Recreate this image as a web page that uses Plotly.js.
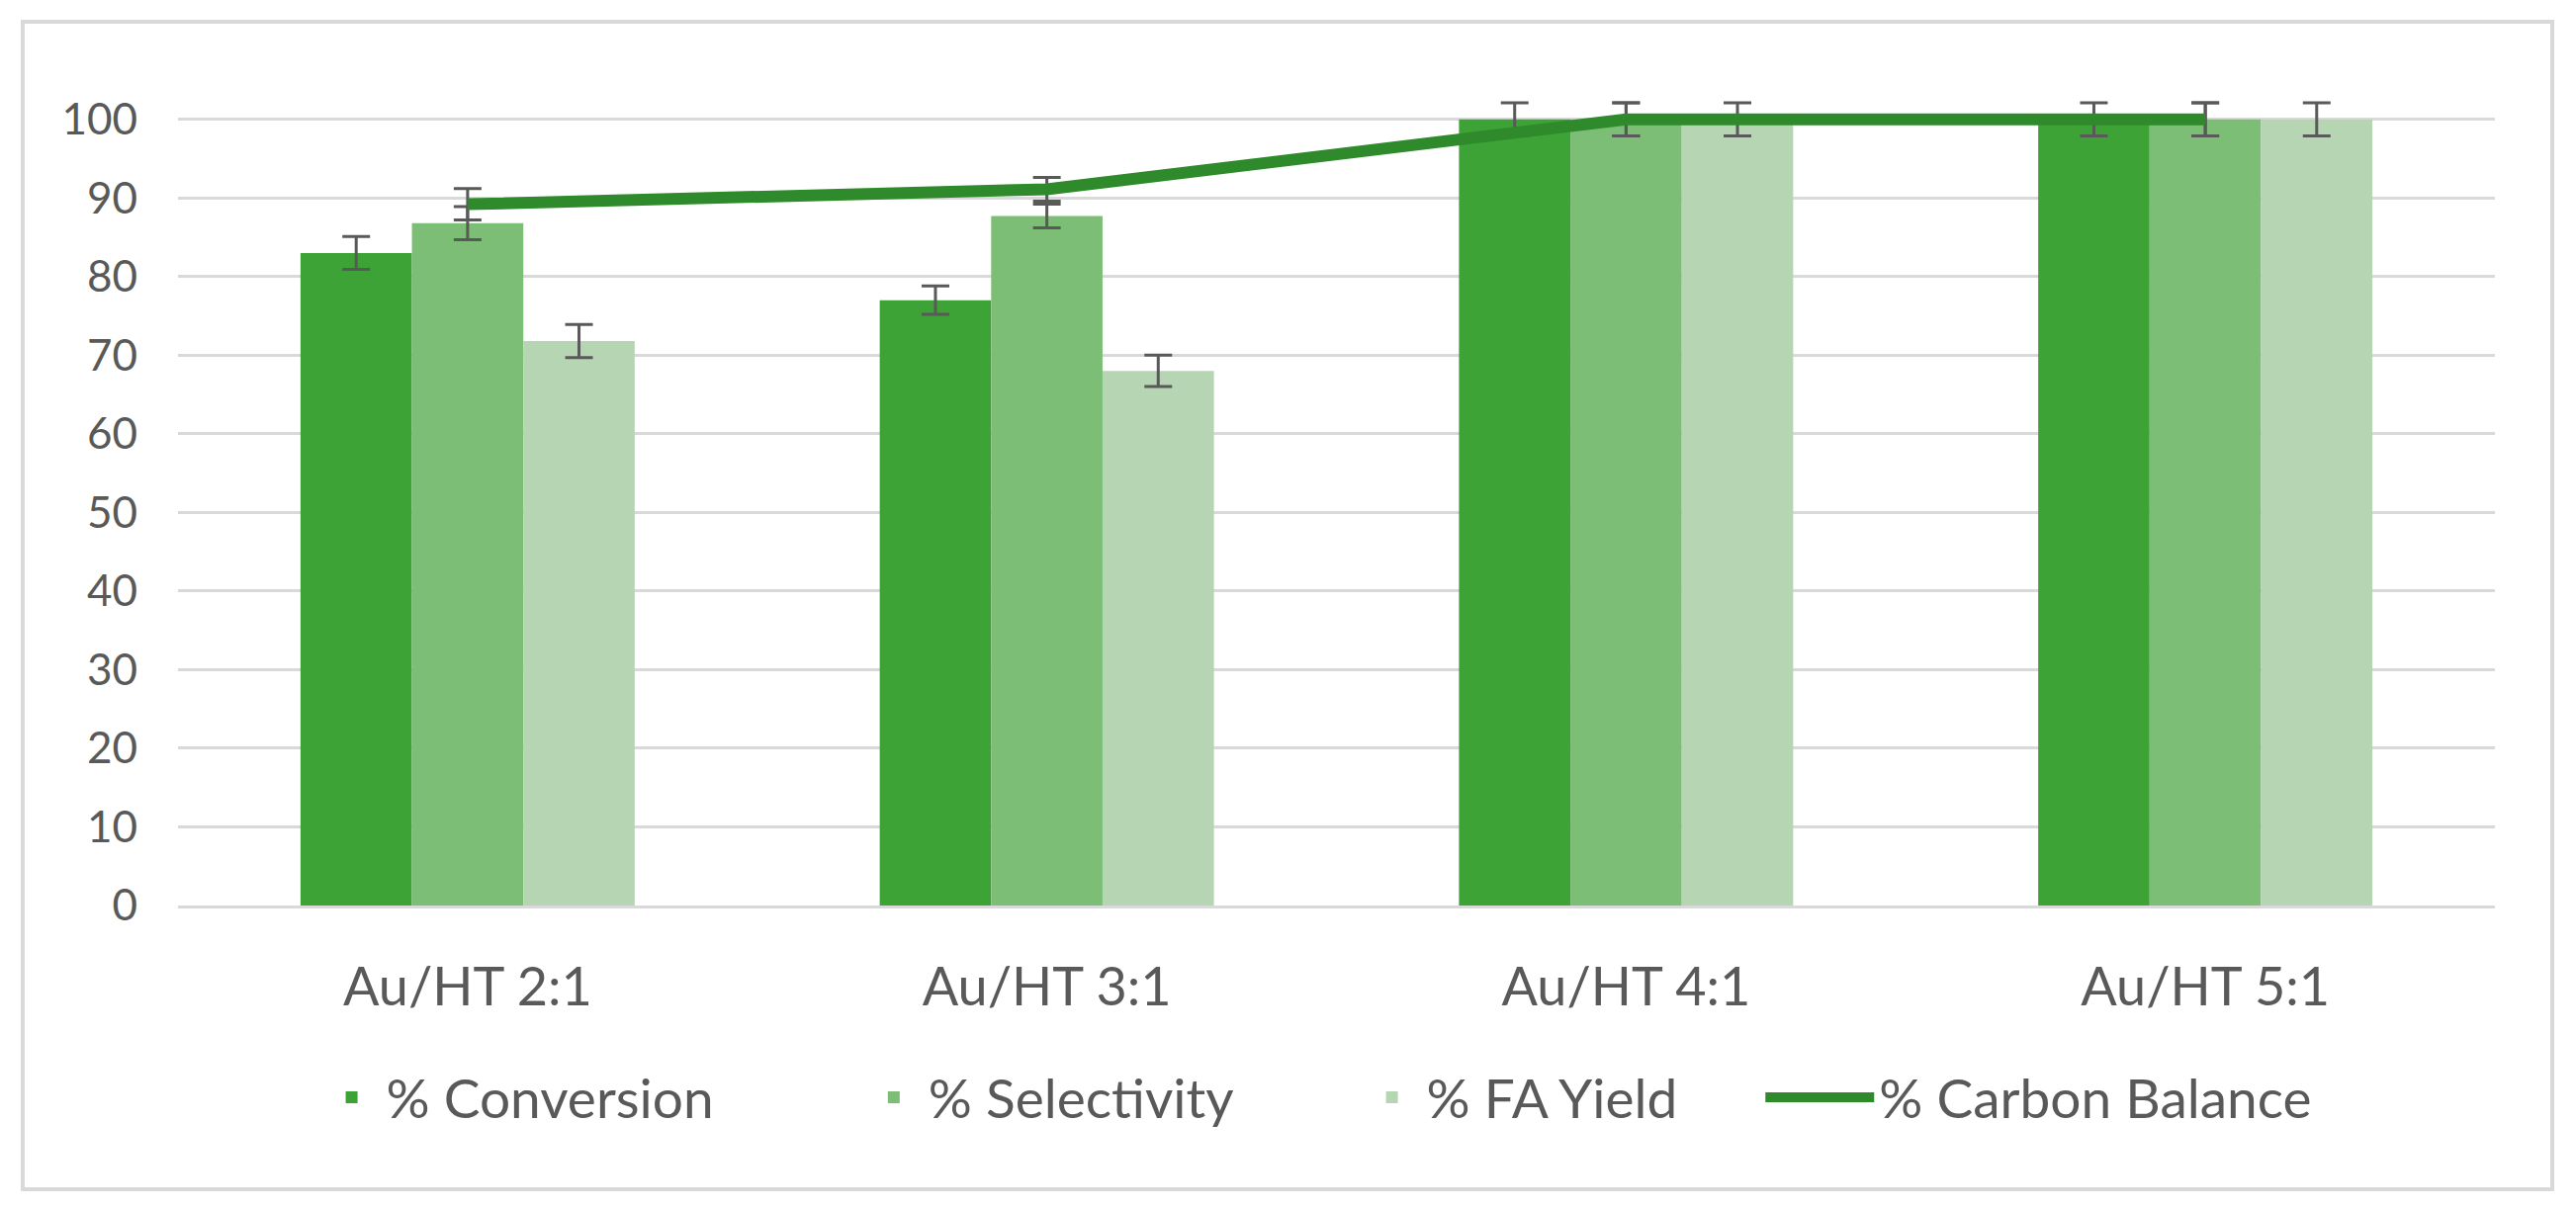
<!DOCTYPE html>
<html>
<head>
<meta charset="utf-8">
<script src="https://cdn.plot.ly/plotly-3.0.1.min.js"></script>
<style>
  html, body { margin: 0; padding: 0; background: #ffffff; }
  #chart { position: absolute; left: 0; top: 0; width: 2605px; height: 1222px; }
  #frame { position: absolute; left: 21px; top: 20px; width: 2554px; height: 1177px;
           border: 4px solid #d9d9d9; pointer-events: none; }
</style>
</head>
<body>
<div id="chart"></div>
<div id="frame"></div>
<script>
// ---- data ----
const categories = ["Au/HT 2:1", "Au/HT 3:1", "Au/HT 4:1", "Au/HT 5:1"];
const conversion = [83, 77, 100, 100];
const conversionErr = [2.1, 1.8, 2.1, 2.1];
const selectivity = [86.8, 87.7, 100, 100];
const selectivityErr = [2.1, 1.5, 2.1, 2.1];
const faYield = [71.8, 68, 100, 100];
const faYieldErr = [2.1, 2.0, 2.1, 2.1];
const carbonBalance = [89.2, 91.1, 100, 100];
const carbonBalanceErr = [2.0, 1.5, 2.1, 2.1];
const yTicks = [0, 10, 20, 30, 40, 50, 60, 70, 80, 90, 100];
const seriesNames = ["% Conversion", "% Selectivity", "% FA Yield", "% Carbon Balance"];

// ---- styles ----
const colors = ["#3EA336", "#7DBE76", "#B6D6B3", "#2F8A2B"];
const errStyle = { type: "data", color: "#595959", thickness: 3, width: 14 };
const font = "Lato, 'Open Sans', sans-serif";
const textColor = "#595959";

const traces = [
  { type: "bar", name: seriesNames[0], x: categories, y: conversion,
    marker: { color: colors[0], line: { color: colors[0], width: 0 } },
    error_y: Object.assign({ array: conversionErr }, errStyle), legend: "legend" },
  { type: "bar", name: seriesNames[1], x: categories, y: selectivity,
    marker: { color: colors[1], line: { color: colors[1], width: 0 } },
    error_y: Object.assign({ array: selectivityErr }, errStyle), legend: "legend2" },
  { type: "bar", name: seriesNames[2], x: categories, y: faYield,
    marker: { color: colors[2], line: { color: colors[2], width: 0 } },
    error_y: Object.assign({ array: faYieldErr }, errStyle), legend: "legend3" },
  { type: "scatter", mode: "lines", name: seriesNames[3], x: categories, y: carbonBalance,
    line: { color: colors[3], width: 12 },
    error_y: Object.assign({ array: carbonBalanceErr }, errStyle), legend: "legend4" }
];

function legendAt(x, itemwidth) {
  return { orientation: "h", x: x, xanchor: "left", y: -0.18, yanchor: "top",
           font: { family: font, size: 55, color: textColor }, itemwidth: itemwidth,
           bgcolor: "rgba(0,0,0,0)" };
}

const layout = {
  width: 2605, height: 1222,
  margin: { l: 180, r: 82, t: 73, b: 306 },
  paper_bgcolor: "#ffffff", plot_bgcolor: "#ffffff",
  barmode: "group", bargap: 0.423, bargroupgap: 0,
  showlegend: true,
  font: { family: font, color: textColor },
  xaxis: {
    type: "category", showgrid: false, zeroline: false,
    showline: true, linecolor: "#d9d9d9", linewidth: 3,
    ticks: "", ticklabelstandoff: 33,
    tickfont: { family: font, size: 54, color: textColor }
  },
  yaxis: {
    range: [0, 106], tickmode: "array", tickvals: yTicks, ticktext: yTicks.map(String),
    showgrid: true, gridcolor: "#d9d9d9", gridwidth: 3,
    zeroline: false, showline: false, ticks: "", ticklabelstandoff: 40,
    tickfont: { family: font, size: 44, color: textColor }
  },
  legend: legendAt(0.060, 60),
  legend2: legendAt(0.294, 60),
  legend3: legendAt(0.509, 60),
  legend4: legendAt(0.683, 110)
};

Plotly.newPlot("chart", traces, layout, { displayModeBar: false, staticPlot: true });
</script>
</body>
</html>
